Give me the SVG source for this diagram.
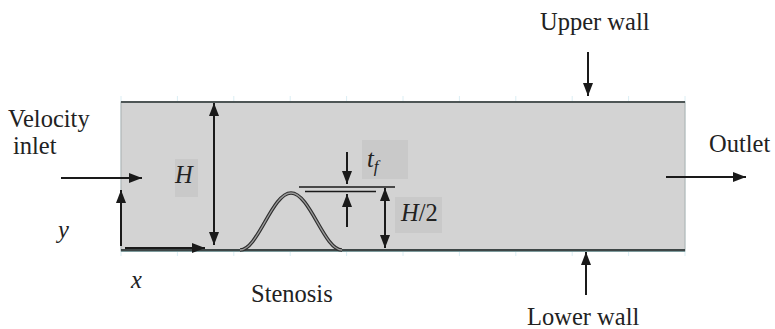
<svg xmlns="http://www.w3.org/2000/svg" width="775" height="329" viewBox="0 0 775 329">
<style>
.lbl{font-size:24.5px;fill:#222}
.it{font-style:italic}
.ln{stroke:#1a1a1a;stroke-width:2;fill:none}
.tick{stroke:#dbeef4;stroke-width:1}
.box{fill:#c9c9c9}
</style>
<defs>
<marker id="ah" viewBox="0 0 13 10" refX="13" refY="5" markerWidth="13" markerHeight="10" markerUnits="userSpaceOnUse" orient="auto-start-reverse">
<path d="M0,0 L13,5 L0,10 Z" fill="#1a1a1a"/>
</marker>
</defs>
<g id="channel">
<g class="tick">
<line x1="121" y1="96" x2="121" y2="256"/>
<line x1="177.4" y1="96" x2="177.4" y2="256"/>
<line x1="233.8" y1="96" x2="233.8" y2="256"/>
<line x1="290.2" y1="96" x2="290.2" y2="256"/>
<line x1="346.6" y1="96" x2="346.6" y2="256"/>
<line x1="403" y1="96" x2="403" y2="256"/>
<line x1="459.4" y1="96" x2="459.4" y2="256"/>
<line x1="515.8" y1="96" x2="515.8" y2="256"/>
<line x1="572.2" y1="96" x2="572.2" y2="256"/>
<line x1="628.6" y1="96" x2="628.6" y2="256"/>
<line x1="685" y1="96" x2="685" y2="256"/>
</g>
<rect x="121" y="102" width="564" height="149" fill="#d3d3d3" stroke="#a9b0b0" stroke-width="1"/>
<line x1="121" y1="102" x2="685" y2="102" stroke="#4e5656" stroke-width="2.2"/>
<line x1="121" y1="250" x2="685" y2="250" stroke="#3e4646" stroke-width="2.2"/>
<line x1="121" y1="251.5" x2="685" y2="251.5" stroke="#7d9a9c" stroke-width="1"/>
</g>
<g id="stenosis">
<path d="M240,250 C258,250 272,193 291,193 C310,193 324,250 342,250" fill="none" stroke="#2e2e2e" stroke-width="3.6"/>
<path d="M240,250 C258,250 272,193 291,193 C310,193 324,250 342,250" fill="none" stroke="#9a9a9a" stroke-width="1.3"/>
</g>
<g id="label-boxes">
<rect class="box" x="175" y="159" width="23" height="38"/>
<rect class="box" x="362" y="140" width="46" height="39"/>
<rect class="box" x="395" y="197" width="47" height="36"/>
</g>
<g id="connectors">
<line class="ln" x1="61" y1="178" x2="142" y2="178" marker-end="url(#ah)"/>
<line class="ln" x1="666" y1="177" x2="746" y2="177" marker-end="url(#ah)"/>
<line class="ln" x1="588" y1="52" x2="588" y2="96" marker-end="url(#ah)"/>
<line class="ln" x1="586" y1="295" x2="586" y2="252" marker-end="url(#ah)"/>
<line class="ln" x1="121" y1="246" x2="121" y2="190" marker-end="url(#ah)"/>
<line class="ln" x1="125" y1="248" x2="205" y2="248" marker-end="url(#ah)"/>
<line class="ln" x1="214" y1="103" x2="214" y2="245" marker-start="url(#ah)" marker-end="url(#ah)"/>
<line class="ln" x1="347" y1="152" x2="347" y2="184" marker-end="url(#ah)"/>
<line class="ln" x1="347" y1="227" x2="347" y2="194" marker-end="url(#ah)"/>
<line x1="299" y1="187" x2="395" y2="187" stroke="#1a1a1a" stroke-width="1.5"/>
<line x1="305" y1="191.5" x2="376" y2="191.5" stroke="#1a1a1a" stroke-width="1.5"/>
<line class="ln" x1="385" y1="188" x2="385" y2="248" marker-start="url(#ah)" marker-end="url(#ah)"/>
</g>
<g id="labels" font-family="Liberation Serif, Times New Roman, serif">
<text class="lbl" x="540" y="30">Upper wall</text>
<text class="lbl" x="527" y="325">Lower wall</text>
<text class="lbl" x="709" y="152">Outlet</text>
<text class="lbl" x="8" y="127">Velocity</text>
<text class="lbl" x="13" y="154">inlet</text>
<text class="lbl" x="251" y="302">Stenosis</text>
<text class="lbl it" x="175" y="183">H</text>
<text class="lbl it" x="367" y="167">t<tspan font-size="17" dy="5">f</tspan></text>
<text class="lbl it" x="401" y="221">H<tspan font-style="normal">/2</tspan></text>
<text class="lbl it" x="58" y="238">y</text>
<text class="lbl it" x="131" y="288">x</text>
</g>
</svg>
